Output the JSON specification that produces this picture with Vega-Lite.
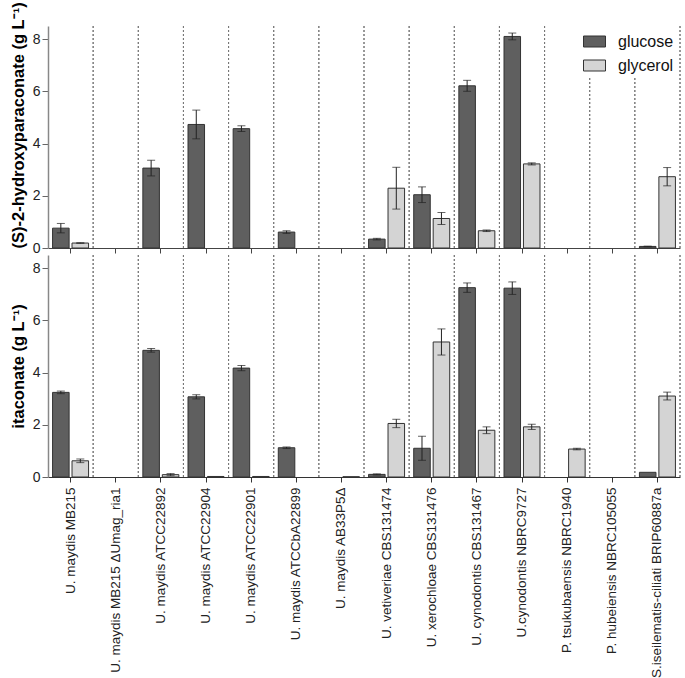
{
  "$schema": "https://vega.github.io/schema/vega-lite/v6.json",
  "padding": {"left": 10, "top": 1, "right": 3, "bottom": 0},
  "background": "white",
  "config": {
    "font": "Liberation Sans",
    "view": {"stroke": null},
    "concat": {"spacing": -3},
    "axis": {"grid": false, "labelFont": "Liberation Sans", "titleFont": "Liberation Sans", "labelColor": "#222", "titleColor": "#000"}
  },
  "datasets": {
    "d": [
      {"strain": "U. maydis MB215", "carbon": "glucose", "hp": 0.76, "hp_err": 0.18, "ita": 3.24, "ita_err": 0.05},
      {"strain": "U. maydis MB215", "carbon": "glycerol", "hp": 0.19, "hp_err": 0.01, "ita": 0.62, "ita_err": 0.07},
      {"strain": "U. maydis MB215 ΔUmag_ria1", "carbon": "glucose", "hp": 0, "hp_err": 0, "ita": 0, "ita_err": 0},
      {"strain": "U. maydis MB215 ΔUmag_ria1", "carbon": "glycerol", "hp": 0, "hp_err": 0, "ita": 0, "ita_err": 0},
      {"strain": "U. maydis ATCC22892", "carbon": "glucose", "hp": 3.06, "hp_err": 0.3, "ita": 4.85, "ita_err": 0.07},
      {"strain": "U. maydis ATCC22892", "carbon": "glycerol", "hp": 0, "hp_err": 0, "ita": 0.09, "ita_err": 0.04},
      {"strain": "U. maydis ATCC22904", "carbon": "glucose", "hp": 4.73, "hp_err": 0.55, "ita": 3.07, "ita_err": 0.08},
      {"strain": "U. maydis ATCC22904", "carbon": "glycerol", "hp": 0, "hp_err": 0, "ita": 0.02, "ita_err": 0},
      {"strain": "U. maydis ATCC22901", "carbon": "glucose", "hp": 4.57, "hp_err": 0.11, "ita": 4.17, "ita_err": 0.1},
      {"strain": "U. maydis ATCC22901", "carbon": "glycerol", "hp": 0, "hp_err": 0, "ita": 0.02, "ita_err": 0},
      {"strain": "U. maydis ATCCbA22899", "carbon": "glucose", "hp": 0.61, "hp_err": 0.05, "ita": 1.12, "ita_err": 0.03},
      {"strain": "U. maydis ATCCbA22899", "carbon": "glycerol", "hp": 0, "hp_err": 0, "ita": 0, "ita_err": 0},
      {"strain": "U. maydis AB33P5Δ", "carbon": "glucose", "hp": 0, "hp_err": 0, "ita": 0, "ita_err": 0},
      {"strain": "U. maydis AB33P5Δ", "carbon": "glycerol", "hp": 0, "hp_err": 0, "ita": 0.01, "ita_err": 0},
      {"strain": "U. vetiveriae CBS131474", "carbon": "glucose", "hp": 0.34, "hp_err": 0.03, "ita": 0.1, "ita_err": 0.02},
      {"strain": "U. vetiveriae CBS131474", "carbon": "glycerol", "hp": 2.29, "hp_err": 0.8, "ita": 2.05, "ita_err": 0.16},
      {"strain": "U. xerochloae CBS131476", "carbon": "glucose", "hp": 2.04, "hp_err": 0.3, "ita": 1.1, "ita_err": 0.46},
      {"strain": "U. xerochloae CBS131476", "carbon": "glycerol", "hp": 1.13, "hp_err": 0.23, "ita": 5.17, "ita_err": 0.5},
      {"strain": "U. cynodontis CBS131467", "carbon": "glucose", "hp": 6.21, "hp_err": 0.21, "ita": 7.25, "ita_err": 0.18},
      {"strain": "U. cynodontis CBS131467", "carbon": "glycerol", "hp": 0.66, "hp_err": 0.03, "ita": 1.79, "ita_err": 0.13},
      {"strain": "U.cynodontis NBRC9727", "carbon": "glucose", "hp": 8.1, "hp_err": 0.13, "ita": 7.23, "ita_err": 0.24},
      {"strain": "U.cynodontis NBRC9727", "carbon": "glycerol", "hp": 3.22, "hp_err": 0.04, "ita": 1.92, "ita_err": 0.1},
      {"strain": "P. tsukubaensis NBRC1940", "carbon": "glucose", "hp": 0, "hp_err": 0, "ita": 0, "ita_err": 0},
      {"strain": "P. tsukubaensis NBRC1940", "carbon": "glycerol", "hp": 0, "hp_err": 0, "ita": 1.07, "ita_err": 0.03},
      {"strain": "P. hubeiensis NBRC105055", "carbon": "glucose", "hp": 0, "hp_err": 0, "ita": 0, "ita_err": 0},
      {"strain": "P. hubeiensis NBRC105055", "carbon": "glycerol", "hp": 0, "hp_err": 0, "ita": 0, "ita_err": 0},
      {"strain": "S.iseilematis-ciliati BRIP60887a", "carbon": "glucose", "hp": 0.06, "hp_err": 0.01, "ita": 0.18, "ita_err": 0},
      {"strain": "S.iseilematis-ciliati BRIP60887a", "carbon": "glycerol", "hp": 2.73, "hp_err": 0.35, "ita": 3.1, "ita_err": 0.15}
    ]
  },
  "data": {"name": "d"},
  "resolve": {"legend": {"color": "independent"}},
  "vconcat": [
    {
      "width": 632,
      "height": 222,
      "layer": [
        {
          "mark": {"type": "rule", "strokeDash": [2, 2], "color": "#777", "strokeWidth": 1},
          "encoding": {
            "x": {"field": "strain", "type": "nominal", "sort": null, "bandPosition": 1, "scale": {"paddingInner": 0, "paddingOuter": 0},
              "axis": {"labels": false, "title": null, "ticks": true, "tickSize": 5, "domainColor": "#444", "tickColor": "#444"}}
          }
        },
        {
          "transform": [{"filter": "datum.hp > 0"}],
          "mark": {"type": "bar", "stroke": "#333", "strokeWidth": 1},
          "encoding": {
            "x": {"field": "strain", "type": "nominal", "sort": null,
              "axis": {"labels": false, "title": null, "ticks": true, "tickSize": 5, "domainColor": "#444", "tickColor": "#444"}},
            "xOffset": {"field": "carbon", "type": "nominal", "sort": null, "scale": {"domain": ["glucose", "glycerol"], "paddingInner": 0.15, "paddingOuter": 0.235}},
            "y": {"field": "hp", "type": "quantitative", "scale": {"domain": [0, 8.5], "nice": false},
              "axis": {"title": "(S)-2-hydroxyparaconate (g L⁻¹)", "titleAnchor": "start", "values": [0, 2, 4, 6, 8], "titleFontSize": 16.5, "titleFontWeight": "bold", "labelFontSize": 14, "tickSize": 6, "domainColor": "#888", "domainWidth": 1.5, "tickColor": "#666", "titlePadding": 6}},
            "color": {"field": "carbon", "type": "nominal", "scale": {"domain": ["glucose", "glycerol"], "range": ["#5f5f5f", "#d4d4d4"]},
              "legend": {"title": null, "orient": "none", "legendX": 531, "legendY": 0, "labelFontSize": 16, "labelColor": "#111", "symbolType": "M-1,-0.5H1V0.5H-1Z", "symbolSize": 484, "symbolStrokeColor": "#333", "symbolStrokeWidth": 1, "rowPadding": 4, "labelOffset": 12, "fillColor": "white", "padding": 4}}
          }
        },
        {
          "transform": [{"filter": "datum.hp_err > 0"}],
          "mark": {"type": "errorbar", "ticks": {"size": 8, "color": "#222"}, "rule": {"color": "#222"}},
          "encoding": {
            "x": {"field": "strain", "type": "nominal", "sort": null},
            "xOffset": {"field": "carbon", "type": "nominal", "sort": null},
            "y": {"field": "hp", "type": "quantitative", "title": "(S)-2-hydroxyparaconate (g L⁻¹)"},
            "yError": {"field": "hp_err"}
          }
        }
      ]
    },
    {
      "width": 632,
      "height": 222,
      "layer": [
        {
          "mark": {"type": "rule", "strokeDash": [2, 2], "color": "#777", "strokeWidth": 1},
          "encoding": {
            "x": {"field": "strain", "type": "nominal", "sort": null, "bandPosition": 1, "scale": {"paddingInner": 0, "paddingOuter": 0},
              "axis": {"title": null, "labelAngle": -90, "labelAlign": "right", "labelBaseline": "middle", "labelFontSize": 13.5, "labelPadding": 5, "tickSize": 5, "domainColor": "#333", "tickColor": "#333", "labelLimit": 300}}
          }
        },
        {
          "transform": [{"filter": "datum.ita > 0"}],
          "mark": {"type": "bar", "stroke": "#333", "strokeWidth": 1},
          "encoding": {
            "x": {"field": "strain", "type": "nominal", "sort": null,
              "axis": {"title": null, "labelAngle": -90, "labelAlign": "right", "labelBaseline": "middle", "labelFontSize": 13.5, "labelPadding": 5, "tickSize": 5, "domainColor": "#333", "tickColor": "#333", "labelLimit": 300}},
            "xOffset": {"field": "carbon", "type": "nominal", "sort": null, "scale": {"domain": ["glucose", "glycerol"], "paddingInner": 0.15, "paddingOuter": 0.235}},
            "y": {"field": "ita", "type": "quantitative", "scale": {"domain": [0, 8.5], "nice": false},
              "axis": {"title": "itaconate (g L⁻¹)", "values": [0, 2, 4, 6, 8], "titleFontSize": 16.5, "titleFontWeight": "bold", "labelFontSize": 14, "tickSize": 6, "domainColor": "#888", "domainWidth": 1.5, "tickColor": "#666", "titlePadding": 6}},
            "color": {"field": "carbon", "type": "nominal", "scale": {"domain": ["glucose", "glycerol"], "range": ["#5f5f5f", "#d4d4d4"]}, "legend": null}
          }
        },
        {
          "transform": [{"filter": "datum.ita_err > 0"}],
          "mark": {"type": "errorbar", "ticks": {"size": 8, "color": "#222"}, "rule": {"color": "#222"}},
          "encoding": {
            "x": {"field": "strain", "type": "nominal", "sort": null},
            "xOffset": {"field": "carbon", "type": "nominal", "sort": null},
            "y": {"field": "ita", "type": "quantitative", "title": "itaconate (g L⁻¹)"},
            "yError": {"field": "ita_err"}
          }
        }
      ]
    }
  ]
}
